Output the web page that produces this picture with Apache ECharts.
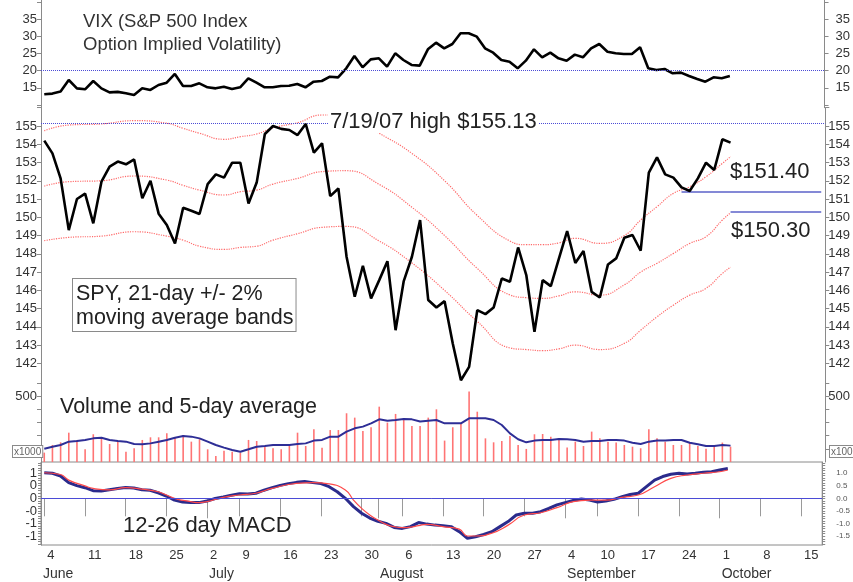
<!DOCTYPE html>
<html>
<head>
<meta charset="utf-8">
<script src="https://cdn.jsdelivr.net/npm/echarts@6/dist/echarts.min.js"></script>
<style>
  html, body { margin: 0; padding: 0; background: #fff; }
  #main { width: 853px; height: 582px; }
</style>
</head>
<body>
<div id="main"></div>
<script>
// trading days from Jun 4 2007 (index 0); axis runs to mid October
const weekStarts = [0, 5, 10, 15, 20, 24, 29, 34, 39, 44, 49, 54, 59, 64, 68, 73, 78, 83, 88, 93];
const weekLabels = ['4', '11', '18', '25', '2', '9', '16', '23', '30', '6', '13', '20', '27', '4', '10', '17', '24', '1', '8', '15'];
const monthStarts = [-0.4, 20, 41, 64, 83];
const monthLabels = ['June', 'July', 'August', 'September', 'October'];

const vix = [13.09, 13.3, 13.9, 17.28, 14.84, 14.55, 16.99, 14.84, 13.67, 13.8,
  13.39, 12.9, 14.84, 14.36, 15.82, 16.5, 19.04, 15.53, 15.53, 16.3,
  15.14, 14.84, 15.33, 14.65, 15.14, 17.77, 16.5, 15.14, 15.14, 15.53,
  15.6, 16.11, 15.14, 16.79, 16.99, 18.25, 18.06, 20.69, 24.3, 20.99,
  23.32, 23.62, 21.18, 25.08, 23.13, 21.67, 21.47, 26.25, 28.2, 26.54,
  27.8, 30.93, 30.93, 29.95, 26.54, 25.27, 23.13, 22.64, 20.69, 22.93,
  26.25, 23.91, 25.27, 23.62, 22.93, 24.7, 23.91, 26.54, 27.8, 25.56,
  25.08, 24.88, 24.88, 26.83, 20.69, 20.2, 20.5, 19.23, 19.43, 18.45,
  17.57, 16.79, 18.06, 17.77, 18.45];

const spy = [154.2, 153.5, 152.13, 149.3, 151.0, 151.3, 149.67, 151.95, 152.77, 153.05,
  152.9, 153.17, 151.04, 152.0, 150.2, 149.58, 148.57, 150.52, 150.36, 150.18,
  151.82, 152.35, 152.17, 152.99, 152.99, 150.76, 151.9, 154.56, 155.0, 154.84,
  154.78, 154.5, 155.11, 153.54, 154.05, 151.16, 151.58, 147.84, 145.65, 147.35,
  145.56, 146.56, 147.6, 143.82, 146.51, 147.84, 149.85, 145.47, 145.06, 145.41,
  143.09, 141.08, 141.81, 144.92, 144.7, 145.06, 146.65, 146.47, 148.35, 146.84,
  143.73, 146.56, 146.23, 147.75, 149.25, 147.5, 148.15, 145.92, 145.61, 147.42,
  147.75, 148.88, 149.03, 148.17, 152.44, 153.28, 152.35, 152.17, 151.64, 151.44,
  152.13, 152.99, 152.59, 154.27, 154.09];

// moving average band, read at these day indexes
const bandIdx = [0, 3, 7, 11, 15, 17, 19, 22, 24, 26, 28, 31, 34, 37, 41, 45, 49, 53, 57, 59, 61, 63, 65, 68, 71, 73, 75, 77, 79, 81, 83, 84];
const bandUpper = [154.74, 155.05, 155.11, 155.29, 155.15, 154.87, 154.6, 154.27, 154.41, 154.56, 154.9, 155.18, 155.6, 155.6, 154.6, 153.5, 152.0, 150.1, 148.7, 148.5, 148.5, 148.6, 148.85, 148.57, 149.0, 149.85, 150.58, 151.31, 151.67, 152.22, 152.95, 153.32];
const bandMid = [151.71, 151.95, 152.0, 152.26, 152.04, 151.75, 151.49, 151.22, 151.4, 151.49, 151.82, 152.13, 152.5, 152.55, 151.8, 150.55, 149.0, 147.2, 145.75, 145.6, 145.56, 145.7, 145.92, 145.74, 146.3, 147.0, 147.48, 148.02, 148.57, 148.94, 149.85, 150.25];
const bandLower = [148.72, 148.9, 148.97, 149.21, 148.97, 148.75, 148.42, 148.24, 148.35, 148.42, 148.75, 149.1, 149.45, 149.5, 148.7, 147.5, 146.0, 144.3, 142.85, 142.76, 142.7, 142.8, 143.0, 142.76, 143.1, 143.82, 144.55, 145.19, 145.74, 146.11, 146.93, 147.26];

const julyHigh = 155.13;
const supportLevels = [151.40, 150.30];
const supportFrom = [78, 84];
const supportTo = 95.1;

// volume in thousands of shares
const volume = [71, 129, 149, 222, 167, 96, 210, 179, 136, 154,
  78, 104, 167, 187, 187, 217, 187, 205, 154, 172,
  96, 45, 86, 78, 71, 167, 159, 116, 104, 96,
  129, 222, 121, 248, 108, 242, 242, 369, 336, 235,
  263, 419, 298, 364, 318, 273, 273, 336, 399, 162,
  263, 288, 533, 381, 179, 149, 159, 197, 129, 99,
  210, 212, 192, 179, 109, 154, 121, 230, 179, 154,
  147, 129, 116, 104, 248, 179, 154, 129, 129, 147,
  121, 101, 121, 147, 116];
const volumeAvg = [100, 116, 129, 154, 159, 167, 179, 184, 167, 159,
  154, 136, 134, 141, 154, 167, 184, 197, 192, 179,
  154, 129, 109, 91, 78, 96, 116, 121, 129, 129,
  129, 136, 141, 162, 167, 192, 192, 230, 255, 268,
  293, 323, 313, 318, 326, 323, 306, 313, 318, 293,
  293, 293, 331, 331, 331, 318, 280, 217, 172, 149,
  162, 167, 167, 174, 172, 167, 154, 159, 159, 167,
  167, 162, 146, 136, 154, 162, 162, 167, 167, 146,
  134, 121, 121, 129, 124];

const macd = [1.01, 0.99, 0.88, 0.62, 0.50, 0.42, 0.30, 0.29, 0.34, 0.39,
  0.43, 0.41, 0.34, 0.32, 0.22, 0.09, -0.07, -0.15, -0.17, -0.17,
  -0.11, -0.01, 0.05, 0.12, 0.18, 0.17, 0.20, 0.32, 0.42, 0.51,
  0.58, 0.63, 0.66, 0.62, 0.58, 0.46, 0.26, 0.00, -0.33, -0.59,
  -0.78, -0.91, -0.99, -1.15, -1.19, -1.12, -0.96, -1.02, -1.06, -1.08,
  -1.12, -1.32, -1.58, -1.52, -1.43, -1.32, -1.12, -0.92, -0.66, -0.59,
  -0.59, -0.53, -0.40, -0.26, -0.17, -0.09, -0.03, -0.07, -0.15, -0.11,
  -0.04, 0.06, 0.15, 0.20, 0.46, 0.72, 0.86, 0.95, 0.99, 0.96,
  0.99, 1.03, 1.05, 1.12, 1.18];
const signalIdx = [0, 2, 3, 5, 6, 8, 10, 12, 14, 16, 18, 19, 20, 22, 24, 26, 28, 31, 33, 35,
  37, 38, 39, 40, 41, 42, 43, 44, 45, 46, 47, 49, 51, 52, 53, 55, 57, 59, 61, 63,
  65, 67, 69, 71, 73, 75, 77, 79, 81, 83, 84];
const signal = [1.01, 0.94, 0.72, 0.49, 0.39, 0.33, 0.42, 0.36, 0.26, 0.00, -0.13, -0.17, -0.13, 0.04, 0.13, 0.20, 0.39, 0.59, 0.62, 0.57,
  0.33, -0.07, -0.40, -0.66, -0.86, -1.03, -1.12, -1.16, -1.14, -1.08, -1.03, -1.12, -1.22, -1.49, -1.49, -1.38, -1.06, -0.66, -0.57, -0.37,
  -0.13, -0.07, -0.07, 0.04, 0.13, 0.46, 0.79, 0.92, 0.99, 1.05, 1.12];

const vixTicks = [10, 15, 20, 25, 30, 35, 40];
const vixLabels = [15, 20, 25, 30, 35];
const spyTicks = [142, 143, 144, 145, 146, 147, 148, 149, 150, 151, 152, 153, 154, 155, 156];
const spyLabels = [142, 143, 144, 145, 146, 147, 148, 149, 150, 151, 152, 153, 154, 155];
const volTicks = [100, 200, 300, 400, 500, 600];
const volLabels = [500];
const macdLabels = [-1.5, -1, -0.5, 0, 0.5, 1];
const macdLabelsA = [-1.5, -0.5, 0.5];
const macdLabelsB = [-1, 0, 1];
const macdTicks = [];
for (let k = -18; k <= 14; k++) macdTicks.push(k / 10);

const X_MIN = -0.4, X_MAX = 95.6;
const FONT = '"Liberation Sans", Arial, sans-serif';

var myChart = echarts.init(document.getElementById('main'));

function pairs(idx, vals) {
    return vals.map((v, i) => [idx ? idx[i] : i, v]);
}

function hiddenX(g) {
    return { type: 'value', gridIndex: g, min: X_MIN, max: X_MAX, show: false };
}

function yAx(g, pos, min, max, ticks, labels, opts) {
    opts = opts || {};
    return {
        type: 'value', gridIndex: g, position: pos, min: min, max: max,
        splitLine: { show: false },
        axisLine: { show: !opts.noLine, onZero: false, lineStyle: { color: '#8a8a8a', width: 1 } },
        axisTick: { show: !opts.noLine, inside: false, length: opts.tickLen || 4, customValues: ticks, lineStyle: { color: '#8a8a8a' } },
        axisLabel: {
            customValues: labels, margin: opts.margin || 4,
            showMinLabel: true, showMaxLabel: true, hideOverlap: false,
            color: opts.color || '#333', fontSize: opts.size || 13, fontFamily: FONT,
            formatter: opts.fmt || (v => String(v))
        }
    };
}

// truncated labels as printed on the left MACD scale
function macdShort(v) {
    return v < 0 ? '-' + Math.floor(-v) : String(Math.floor(v));
}

var option = {
    animation: false,
    backgroundColor: '#fff',
    grid: [
        { left: 41, right: 24, top: 0, height: 107.7 },
        { left: 41, right: 24, top: 107.7, height: 274 },
        { left: 41, right: 24, top: 381.7, height: 80.3 },
        { left: 41, right: 24, top: 462, height: 83, show: true, borderColor: '#8a8a8a', borderWidth: 1, backgroundColor: 'transparent' }
    ],
    xAxis: [
        hiddenX(0), hiddenX(1), hiddenX(2),
        {
            type: 'value', gridIndex: 3, min: X_MIN, max: X_MAX, position: 'bottom',
            splitLine: { show: false },
            axisLine: { show: true, lineStyle: { color: '#8a8a8a' } },
            axisTick: { show: true, length: 18, customValues: weekStarts, lineStyle: { color: '#9a9a9a' } },
            axisLabel: {
                customValues: weekStarts, align: 'left', padding: [0, 0, 0, 3], margin: 4,
                color: '#333', fontSize: 13, fontFamily: FONT,
                formatter: v => weekLabels[weekStarts.indexOf(v)]
            }
        },
        {
            type: 'value', gridIndex: 3, min: X_MIN, max: X_MAX, position: 'bottom', offset: 18,
            splitLine: { show: false },
            axisLine: { show: true, lineStyle: { color: '#9a9a9a' } },
            axisTick: { show: true, length: 20, customValues: monthStarts.slice(1), lineStyle: { color: '#9a9a9a' } },
            axisLabel: {
                customValues: monthStarts, align: 'left', padding: [0, 0, 0, 2], margin: 4,
                color: '#333', fontSize: 14, fontFamily: FONT,
                formatter: v => monthLabels[monthStarts.indexOf(v)]
            }
        }
    ],
    yAxis: [
        yAx(0, 'left', 9.18, 40.67, vixTicks, vixLabels),
        yAx(0, 'right', 9.18, 40.67, vixTicks, vixLabels, { margin: 11 }),
        yAx(1, 'left', 141, 156, spyTicks, spyLabels),
        yAx(1, 'right', 141, 156, spyTicks, spyLabels, { margin: 3 }),
        yAx(2, 'left', 0, 608, volTicks, volLabels),
        yAx(2, 'right', 0, 608, volTicks, volLabels, { margin: 3 }),
        yAx(3, 'left', -1.846, 1.435, macdTicks, macdLabelsA, { fmt: macdShort, tickLen: 3 }),
        yAx(3, 'right', -1.846, 1.435, macdTicks, macdLabels, { fmt: v => v.toFixed(1), size: 8, color: '#555', margin: 14, tickLen: 3 }),
        yAx(3, 'left', -1.846, 1.435, [], macdLabelsB, { fmt: macdShort, noLine: true })
    ],
    series: [
        {
            name: 'VIX', type: 'line', xAxisIndex: 0, yAxisIndex: 0,
            data: pairs(null, vix), symbol: 'none',
            lineStyle: { color: '#000', width: 2.6 },
            markLine: {
                silent: true, symbol: ['none', 'none'], label: { show: false },
                lineStyle: { color: '#4b4bd6', type: 'dotted', width: 1 },
                data: [{ yAxis: 20 }]
            }
        },
        {
            name: 'Upper band', type: 'line', xAxisIndex: 1, yAxisIndex: 2, smooth: true,
            data: pairs(bandIdx, bandUpper), symbol: 'none',
            lineStyle: { color: '#ff6a6a', type: 'dotted', width: 1.2 }
        },
        {
            name: '21-day MA', type: 'line', xAxisIndex: 1, yAxisIndex: 2, smooth: true,
            data: pairs(bandIdx, bandMid), symbol: 'none',
            lineStyle: { color: '#ff6a6a', type: 'dotted', width: 1.2 }
        },
        {
            name: 'Lower band', type: 'line', xAxisIndex: 1, yAxisIndex: 2, smooth: true,
            data: pairs(bandIdx, bandLower), symbol: 'none',
            lineStyle: { color: '#ff6a6a', type: 'dotted', width: 1.2 }
        },
        {
            name: 'SPY', type: 'line', xAxisIndex: 1, yAxisIndex: 2,
            data: pairs(null, spy), symbol: 'none', z: 5,
            lineStyle: { color: '#000', width: 2.6 },
            markLine: {
                silent: true, symbol: ['none', 'none'], label: { show: false },
                data: [
                    { yAxis: julyHigh, lineStyle: { color: '#4b4bd6', type: 'dotted', width: 1 } },
                    [{ coord: [supportFrom[0], supportLevels[0]], lineStyle: { color: '#5b62c9', type: 'solid', width: 1.6 } }, { coord: [supportTo, supportLevels[0]] }],
                    [{ coord: [supportFrom[1], supportLevels[1]], lineStyle: { color: '#5b62c9', type: 'solid', width: 1.6 } }, { coord: [supportTo, supportLevels[1]] }]
                ]
            }
        },
        {
            name: 'Volume', type: 'bar', xAxisIndex: 2, yAxisIndex: 4,
            data: pairs(null, volume), barWidth: 1.6,
            itemStyle: { color: '#ff7474' }
        },
        {
            name: '5-day average', type: 'line', xAxisIndex: 2, yAxisIndex: 4,
            data: pairs(null, volumeAvg), symbol: 'none', z: 5,
            lineStyle: { color: '#2e2e96', width: 2 }
        },
        {
            name: 'Signal', type: 'line', xAxisIndex: 3, yAxisIndex: 6, smooth: true,
            data: pairs(signalIdx, signal), symbol: 'none', z: 4,
            lineStyle: { color: '#ff4a4a', width: 1.2 }
        },
        {
            name: 'MACD', type: 'line', xAxisIndex: 3, yAxisIndex: 6,
            data: pairs(null, macd), symbol: 'none', z: 3,
            lineStyle: { color: '#2b2b8c', width: 3 },
            markLine: {
                silent: true, symbol: ['none', 'none'], label: { show: false },
                lineStyle: { color: '#4b4bd6', type: 'solid', width: 1 },
                data: [{ yAxis: 0 }]
            }
        }
    ],
    graphic: [
        {
            type: 'text', x: 83, y: 10, z: 10,
            style: { text: 'VIX (S&P 500 Index\nOption Implied Volatility)', font: '18.5px ' + FONT, fill: '#333', lineHeight: 23 }
        },
        {
            type: 'text', x: 328, y: 111, z: 10,
            style: { text: '7/19/07 high $155.13', font: '22px ' + FONT, fill: '#222', backgroundColor: '#fff', padding: [0, 2, 0, 2] }
        },
        {
            type: 'text', x: 730, y: 161, z: 10,
            style: { text: '$151.40', font: '22px ' + FONT, fill: '#222' }
        },
        {
            type: 'text', x: 731, y: 220, z: 10,
            style: { text: '$150.30', font: '22px ' + FONT, fill: '#222' }
        },
        {
            type: 'text', x: 73, y: 279, z: 10,
            style: {
                text: 'SPY, 21-day +/- 2%\nmoving average bands', font: '21.5px ' + FONT, fill: '#222',
                lineHeight: 24, backgroundColor: '#fff', borderColor: '#8a8a8a', borderWidth: 1, padding: [3, 2, 1, 3]
            }
        },
        {
            type: 'text', x: 60, y: 396, z: 10,
            style: { text: 'Volume and 5-day average', font: '21.5px ' + FONT, fill: '#222' }
        },
        {
            type: 'text', x: 123, y: 515, z: 10,
            style: { text: '12-26 day MACD', font: '22px ' + FONT, fill: '#222' }
        },
        {
            type: 'text', x: 13, y: 446, z: 10,
            style: { text: 'x1000', font: '10px ' + FONT, fill: '#666', backgroundColor: '#fff', borderColor: '#8a8a8a', borderWidth: 1, padding: [1, 1, 0, 1] }
        },
        {
            type: 'text', x: 830, y: 446, z: 10,
            style: { text: 'x1000', font: '10px ' + FONT, fill: '#666', backgroundColor: '#fff', borderColor: '#8a8a8a', borderWidth: 1, padding: [1, 1, 0, 1] }
        }
    ]
};

myChart.setOption(option);
window.addEventListener('resize', myChart.resize);
</script>
</body>
</html>
